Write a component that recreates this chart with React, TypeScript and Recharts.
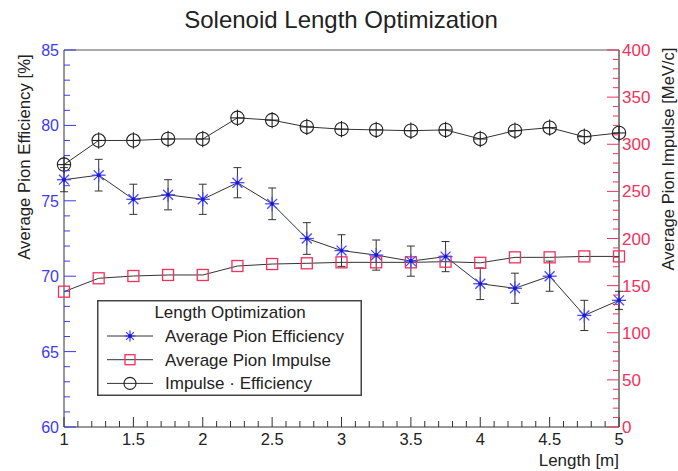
import React from 'react';
import { ComposedChart, Line, XAxis, YAxis, ErrorBar, Legend, ReferenceLine } from 'recharts';

const lengths = [1, 1.25, 1.5, 1.75, 2, 2.25, 2.5, 2.75, 3, 3.25, 3.5, 3.75, 4, 4.25, 4.5, 4.75, 5];
const pionEfficiency = [76.4, 76.7, 75.1, 75.4, 75.1, 76.2, 74.8, 72.5, 71.7, 71.4, 71.0, 71.3, 69.5, 69.2, 70.0, 67.4, 68.4];
const efficiencyError = [0.8, 1.05, 1.0, 1.0, 1.0, 1.0, 1.05, 1.05, 1.05, 1.0, 1.0, 1.0, 1.05, 1.0, 1.0, 1.0, 0.6];
const pionImpulse = [143.6, 157.8, 160.2, 161.3, 161.3, 170.8, 172.9, 173.7, 174.7, 174.7, 174.7, 175.4, 174.2, 180, 180, 181, 181];
const impulseEfficiency = [77.4, 79.0, 79.0, 79.1, 79.1, 80.5, 80.35, 79.9, 79.75, 79.7, 79.65, 79.7, 79.1, 79.65, 79.85, 79.25, 79.5];

const xTicks = Array.from({ length: 41 }, (_, i) => Math.round((1 + i * 0.1) * 10) / 10);
const leftTicks = Array.from({ length: 26 }, (_, i) => 60 + i);
const rightTicks = Array.from({ length: 41 }, (_, i) => i * 10);

const data = lengths.map((l, i) => ({
  length: l,
  eff: pionEfficiency[i],
  effErr: efficiencyError[i],
  impulse: pionImpulse[i],
  product: impulseEfficiency[i],
}));

const BLUE = '#3b3bf5';
const RED = '#f2315c';
const DARK = '#333';
const FONT = '"Liberation Sans", Arial, sans-serif';

const LeftTick = (props: any) => {
  const { x, y, payload } = props;
  const v = payload.value;
  const major = v % 5 === 0;
  return (
    <g>
      <line x1={x} x2={x + (major ? 12 : 6)} y1={y} y2={y} stroke={BLUE} />
      {major && (
        <text x={x - 5} y={y} dy={6} textAnchor="end" fill={BLUE} fontSize={16} fontFamily={FONT}>
          {v}
        </text>
      )}
    </g>
  );
};

const RightTick = (props: any) => {
  const { x, y, payload } = props;
  const v = payload.value;
  const major = v % 50 === 0;
  return (
    <g>
      <line x1={x} x2={x - (major ? 12 : 6)} y1={y} y2={y} stroke={RED} />
      {major && (
        <text x={x + 3} y={y} dy={6} textAnchor="start" fill={RED} fontSize={17} fontFamily={FONT}>
          {v}
        </text>
      )}
    </g>
  );
};

const BottomTick = (props: any) => {
  const { x, y, payload } = props;
  const v = payload.value;
  const major = Math.abs(v * 2 - Math.round(v * 2)) < 1e-6;
  return (
    <g>
      <line x1={x} x2={x} y1={y} y2={y - (major ? 10 : 6)} stroke={DARK} />
      {major && (
        <text x={x} y={y + 18} textAnchor="middle" fill="#222" fontSize={16.5} fontFamily={FONT}>
          {v}
        </text>
      )}
    </g>
  );
};

const Asterisk = ({ cx, cy, r = 7 }: any) => {
  const d = r * 0.71;
  return (
    <g stroke="#4a4af7" strokeWidth={1.3}>
      <line x1={cx - r} x2={cx + r} y1={cy} y2={cy} />
      <line x1={cx} x2={cx} y1={cy - r} y2={cy + r} />
      <line x1={cx - d} x2={cx + d} y1={cy - d} y2={cy + d} />
      <line x1={cx - d} x2={cx + d} y1={cy + d} y2={cy - d} />
      <circle cx={cx} cy={cy} r={2} fill="#1a1ad0" stroke="none" />
    </g>
  );
};

const Square = ({ cx, cy, r = 5.5 }: any) => (
  <rect x={cx - r} y={cy - r} width={2 * r} height={2 * r} fill="none" stroke={RED} strokeWidth={1.3} />
);

const CrossCircle = ({ cx, cy, r = 6.7, cross = true }: any) => (
  <g stroke="#222" strokeWidth={1.1} fill="none">
    <circle cx={cx} cy={cy} r={r} />
    {cross && <line x1={cx} x2={cx} y1={cy - r - 1.5} y2={cy + r + 1.5} />}
    {cross && <line x1={cx - r} x2={cx + r} y1={cy} y2={cy} />}
  </g>
);

const legendRows = [
  { name: 'Average Pion Efficiency', Marker: Asterisk, r: 5.5 },
  { name: 'Average Pion Impulse', Marker: Square, r: 5 },
  { name: 'Impulse \u00b7 Efficiency', Marker: CrossCircle, r: 6 },
];

const LegendBox = () => (
  <svg width={265} height={96} style={{ display: 'block' }}>
    <rect x={0.75} y={0.75} width={263.5} height={94.5} fill="#fff" stroke="#444" strokeWidth={1.5} />
    <text x={133} y={18} textAnchor="middle" fontSize={17} fill="#222" fontFamily={FONT}>
      Length Optimization
    </text>
    {legendRows.map((row, i) => {
      const cy = 36 + i * 23.7;
      return (
        <g key={row.name}>
          <line x1={10} x2={56} y1={cy} y2={cy} stroke={DARK} />
          <row.Marker cx={33} cy={cy} r={row.r} cross={false} />
          <text x={68} y={cy + 6} fontSize={17} fill="#222" fontFamily={FONT}>
            {row.name}
          </text>
        </g>
      );
    })}
  </svg>
);

const renderDot = (Marker: any) => (props: any) => <Marker key={props.index} cx={props.cx} cy={props.cy} />;

export default function App() {
  return (
    <div style={{ position: 'absolute', left: 0, top: 0, width: 678, height: 471, background: '#fff', fontFamily: FONT }}>
      <ComposedChart width={678} height={471} data={data} margin={{ top: 50, right: 10, bottom: 10, left: 10 }}>
        <XAxis
          dataKey="length"
          type="number"
          domain={[1, 5]}
          ticks={xTicks}
          interval={0}
          tick={<BottomTick />}
          tickLine={false}
          tickSize={0}
          tickMargin={0}
          height={34}
          axisLine={{ stroke: DARK }}
          label={{
            content: () => (
              <g>
                <text x={341} y={28} textAnchor="middle" fontSize={24} fill="#222" fontFamily={FONT}>
                  Solenoid Length Optimization
                </text>
                <text x={619} y={466} textAnchor="end" fontSize={17} fill="#222" fontFamily={FONT}>
                  Length [m]
                </text>
              </g>
            ),
          }}
        />
        <YAxis
          yAxisId="left"
          domain={[60, 85]}
          ticks={leftTicks}
          interval={0}
          tick={<LeftTick />}
          tickLine={false}
          tickSize={0}
          tickMargin={0}
          width={54}
          axisLine={{ stroke: DARK }}
          label={{
            content: () => (
              <text x={30} y={157} transform="rotate(-90 30 157)" textAnchor="middle" fontSize={16.8} fill="#222" fontFamily={FONT}>
                Average Pion Efficiency [%]
              </text>
            ),
          }}
        />
        <YAxis
          yAxisId="right"
          orientation="right"
          domain={[0, 400]}
          ticks={rightTicks}
          interval={0}
          tick={<RightTick />}
          tickLine={false}
          tickSize={0}
          tickMargin={0}
          width={49}
          axisLine={{ stroke: '#111' }}
          label={{
            content: () => (
              <text x={674} y={159} transform="rotate(-90 674 159)" textAnchor="middle" fontSize={16.6} fill="#222" fontFamily={FONT}>
                Average Pion Impulse [MeV/c]
              </text>
            ),
          }}
        />
        <ReferenceLine yAxisId="left" y={85} stroke="#555" />
        <Line
          yAxisId="left"
          dataKey="product"
          stroke={DARK}
          strokeWidth={1}
          dot={renderDot(CrossCircle)}
          isAnimationActive={false}
        />
        <Line
          yAxisId="right"
          dataKey="impulse"
          stroke={DARK}
          strokeWidth={1}
          dot={renderDot(Square)}
          isAnimationActive={false}
        />
        <Line
          yAxisId="left"
          dataKey="eff"
          stroke={DARK}
          strokeWidth={1}
          dot={renderDot(Asterisk)}
          isAnimationActive={false}
        >
          <ErrorBar dataKey="effErr" width={4} stroke={DARK} strokeWidth={1} direction="y" isAnimationActive={false} />
        </Line>
        <Legend
          layout="vertical"
          align="center"
          verticalAlign="middle"
          content={() => <LegendBox />}
          wrapperStyle={{ left: 97, top: 300, width: 265, height: 96 }}
        />
      </ComposedChart>
    </div>
  );
}
